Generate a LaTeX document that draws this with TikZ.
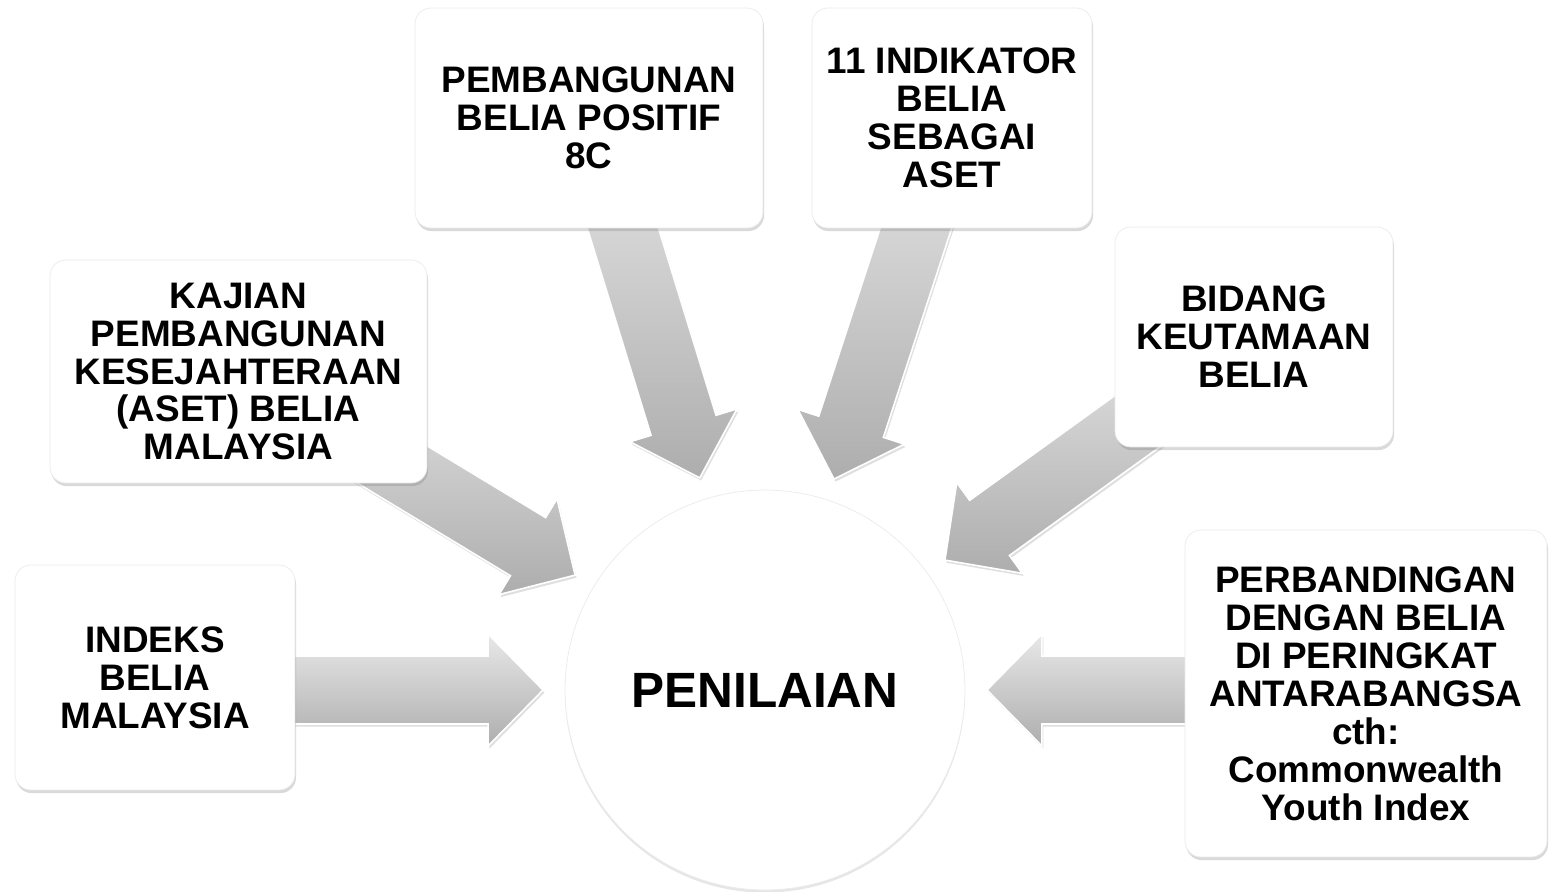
\documentclass[tikz,border=0pt]{standalone}
\usepackage{fontspec}
\setmainfont{Liberation Sans}
\usetikzlibrary{calc,shadows}
\pgfdeclarelayer{back}
\pgfsetlayers{back,main}

\tikzset{
  box/.style={rectangle, rounded corners=9pt, fill=white, draw=black!8,
    align=center, inner sep=2pt,
    font=\bfseries\fontsize{21}{21.6}\selectfont,
    drop shadow={shadow xshift=0.6pt, shadow yshift=-1.8pt, opacity=0.3}},
  hub/.style={circle, fill=white, draw=black!8, minimum size=8cm,
    font=\bfseries\fontsize{28.2}{30}\selectfont,
    drop shadow={shadow xshift=0pt, shadow yshift=-1.5pt, opacity=0.2}},
  fatarr/.style={top color=black!9, bottom color=black!32, draw=white,
    line width=0.9pt, line join=miter,
    drop shadow={shadow xshift=0.8pt, shadow yshift=-1.5pt, opacity=0.25},
    to path={
      -- ($(\tikztostart)!0.68cm!90:(\tikztotarget)$)
      -- ($(\tikztotarget)!5.54cm!(\tikztostart)!0.68cm!90:(\tikztotarget)$)
      -- ($(\tikztotarget)!5.54cm!(\tikztostart)!1.12cm!90:(\tikztotarget)$)
      -- ($(\tikztotarget)!4.44cm!(\tikztostart)$)
      -- ($(\tikztotarget)!5.54cm!(\tikztostart)!1.12cm!-90:(\tikztotarget)$)
      -- ($(\tikztotarget)!5.54cm!(\tikztostart)!0.68cm!-90:(\tikztotarget)$)
      -- ($(\tikztostart)!0.68cm!-90:(\tikztotarget)$)
      -- cycle}}
}

\begin{document}
\begin{tikzpicture}[x=0.02cm, y=-0.02cm]
    \useasboundingbox (0,0) rectangle (1549,892);
    \node[hub] (pen) at (765,690) {PENILAIAN};
    \node[box, minimum width=5.6cm, minimum height=4.5cm] (indeks) at (155,677.5)
      {INDEKS\\BELIA\\MALAYSIA};
    \node[box, minimum width=7.54cm, minimum height=4.46cm] (kajian) at (238.5,371.5)
      {KAJIAN\\PEMBANGUNAN\\KESEJAHTERAAN\\(ASET) BELIA\\MALAYSIA};
    \node[box, minimum width=6.96cm, minimum height=4.4cm] (pbp) at (589,118)
      {PEMBANGUNAN\\BELIA POSITIF\\8C};
    \node[box, minimum width=5.6cm, minimum height=4.4cm] (indik) at (952,118)
      {11 INDIKATOR\\BELIA\\SEBAGAI\\ASET};
    \node[box, minimum width=5.56cm, minimum height=4.4cm] (bidang) at (1254,337)
      {BIDANG\\KEUTAMAAN\\BELIA};
    \node[box, minimum width=7.24cm, minimum height=6.54cm] (banding) at (1366,693.5)
      {PERBANDINGAN\\DENGAN BELIA\\DI PERINGKAT\\ANTARABANGSA\\cth:\\Commonwealth\\Youth Index};
    % arrows go behind the boxes
    \begin{pgfonlayer}{back}
      \shade[fatarr] (indeks.center |- pen.center) to (pen.center);
      \shade[fatarr] (kajian.center) to (pen.center);
      \shade[fatarr] (pbp.center) to (pen.center);
      \shade[fatarr] (indik.center) to (pen.center);
      \shade[fatarr] (bidang.center) to (pen.center);
      \shade[fatarr] (banding.center |- pen.center) to (pen.center);
    \end{pgfonlayer}
\end{tikzpicture}
\end{document}
